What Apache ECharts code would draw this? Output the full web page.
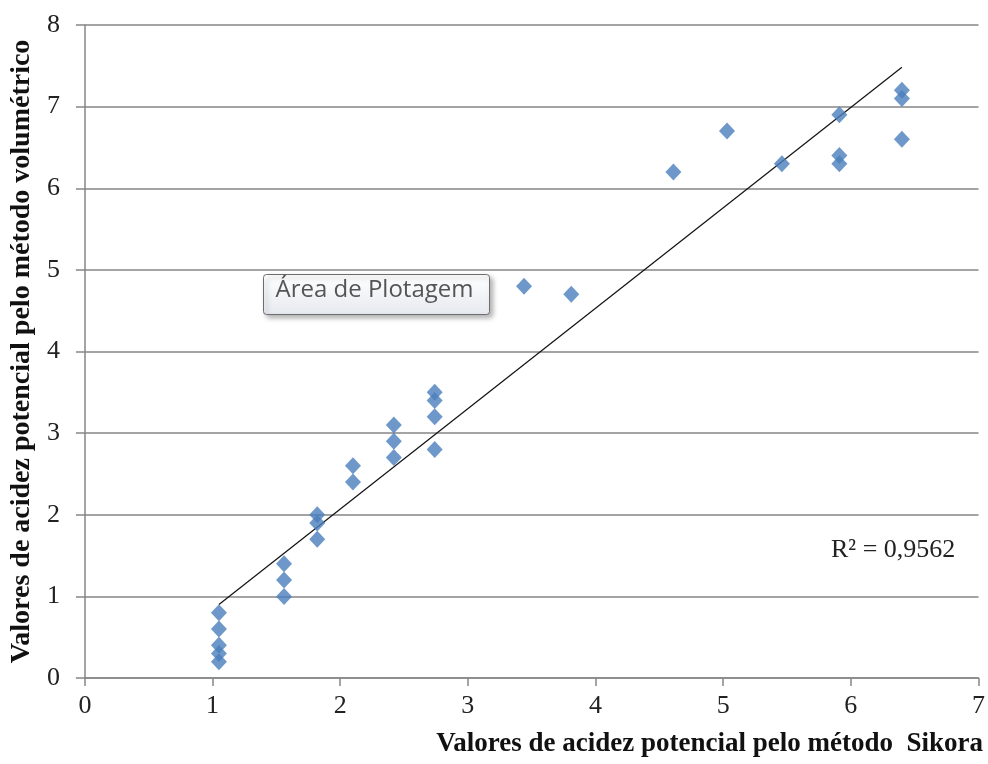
<!DOCTYPE html>
<html>
<head>
<meta charset="utf-8">
<script src="https://cdn.jsdelivr.net/npm/echarts@6/dist/echarts.min.js"></script>
<style>html,body{margin:0;padding:0;background:#fff}#c{width:988px;height:764px}</style>
</head>
<body>
<div id="c"></div>
<script>
// Sikora method values (x) and volumetric method values (y)
var sikora = [1.05,1.05,1.05,1.05,1.05, 1.56,1.56,1.56, 1.82,1.82,1.82, 2.10,2.10, 2.42,2.42,2.42, 2.74,2.74,2.74,2.74, 3.44,3.81,4.61,5.03,5.46, 5.91,5.91,5.91, 6.40,6.40,6.40];
var volumetrico = [0.8,0.6,0.4,0.3,0.2, 1.4,1.2,1.0, 2.0,1.9,1.7, 2.6,2.4, 3.1,2.9,2.7, 3.5,3.4,3.2,2.8, 4.8,4.7,6.2,6.7,6.3, 6.9,6.4,6.3, 7.2,7.1,6.6];
var xTicks = [0,1,2,3,4,5,6,7];
var yTicks = [0,1,2,3,4,5,6,7,8];
var r2Label = 'R² = 0,9562';
var xTitle = 'Valores de acidez potencial pelo método  Sikora';
var yTitle = 'Valores de acidez potencial pelo método volumétrico';
var tipLabel = 'Área de Plotagem';

var points = sikora.map(function(x,i){return [x, volumetrico[i]];});
// least squares trendline
var n = sikora.length, mx = 0, my = 0;
for (var i=0;i<n;i++){mx+=sikora[i];my+=volumetrico[i];}
mx/=n; my/=n;
var sxy=0,sxx=0;
for (var i=0;i<n;i++){sxy+=(sikora[i]-mx)*(volumetrico[i]-my);sxx+=(sikora[i]-mx)*(sikora[i]-mx);}
var b = sxy/sxx, a = my-b*mx;
var xmin = Math.min.apply(null,sikora), xmax = Math.max.apply(null,sikora);
var trend = [[xmin,a+b*xmin],[xmax,a+b*xmax]];

var serif = 'Liberation Serif';
var chart = echarts.init(document.getElementById('c'));
chart.setOption({
  animation:false,
  backgroundColor:'#fff',
  grid:{left:83,right:9,top:25,bottom:86,containLabel:false},
  xAxis:{type:'value',min:xTicks[0],max:xTicks[xTicks.length-1],interval:1,
    axisLine:{show:true,lineStyle:{color:'#868686',width:1.5}},
    axisTick:{show:true,length:8,lineStyle:{color:'#868686',width:1.5}},
    axisLabel:{show:true,margin:15,color:'#222',fontFamily:serif,fontSize:26},
    splitLine:{show:false}},
  yAxis:{type:'value',min:yTicks[0],max:yTicks[yTicks.length-1],interval:1,
    name:yTitle,nameLocation:'middle',nameRotate:90,nameGap:46,
    nameTextStyle:{fontFamily:serif,fontWeight:'bold',fontSize:28,color:'#111'},
    axisLine:{show:true,lineStyle:{color:'#868686',width:1.5}},
    axisTick:{show:true,length:9,lineStyle:{color:'#868686',width:1.5}},
    axisLabel:{show:true,margin:25,color:'#222',fontFamily:serif,fontSize:26},
    splitLine:{show:true,lineStyle:{color:'#868686',width:1.5}}},
  series:[
    {type:'line',data:trend,symbol:'none',silent:true,z:3,
      lineStyle:{color:'#111',width:1.2}},
    {type:'scatter',data:points,symbol:'diamond',symbolSize:[16,17],z:4,
      itemStyle:{color:'#4A7EBB'}}
  ],
  graphic:[
    {type:'text',right:5,top:731,style:{text:xTitle,fontFamily:serif,fontWeight:'bold',fontSize:27,fill:'#111'}},
    {type:'text',left:831,top:537,style:{text:r2Label,fontFamily:serif,fontSize:26,fill:'#222'}},
    {type:'group',left:263,top:274,children:[
      {type:'rect',shape:{x:0,y:0,width:226,height:40,r:3},
        style:{fill:new echarts.graphic.LinearGradient(0,0,0,1,[{offset:0,color:'#ffffff'},{offset:1,color:'#e6e9ef'}]),
          stroke:'#6d6d6d',lineWidth:1,shadowBlur:5,shadowOffsetX:3,shadowOffsetY:3,shadowColor:'rgba(0,0,0,0.3)'}},
      {type:'text',x:12,y:4,style:{text:tipLabel,fontFamily:'Open Sans',fontSize:24,fill:'#555'}}
    ]}
  ]
});
</script>
</body>
</html>
